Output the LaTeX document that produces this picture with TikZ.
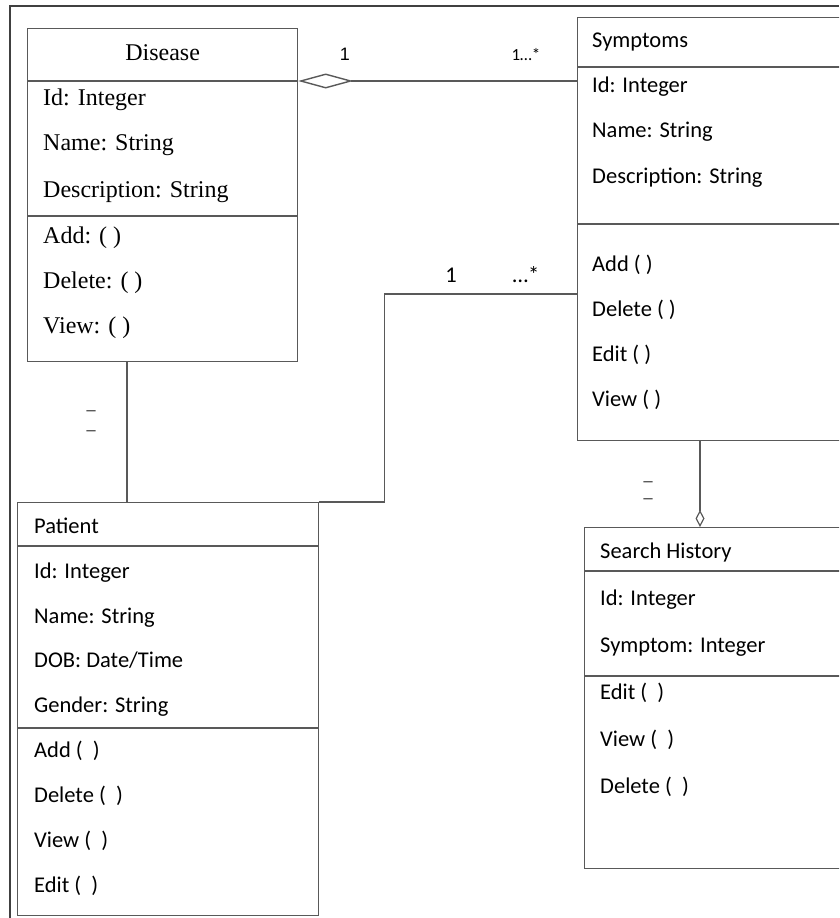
\documentclass[tikz,border=0pt]{standalone}
\usepackage{fontspec}
\setmainfont{Liberation Serif}
\setsansfont{Carlito}
\newfontfamily\arialfont{Liberation Sans}
\usetikzlibrary{positioning,arrows.meta}

\tikzset{
  classbox/.style={draw=black!65, line width=1.2pt, anchor=north west, inner sep=0pt, minimum width=#1},
  classbox/.default=300pt,
  row/.style={anchor=base west, inner sep=0pt, font=\sffamily\fontsize{22.5}{26}\selectfont},
  serifrow/.style={anchor=base west, inner sep=0pt, font=\fontsize{24}{28}\selectfont},
  mult/.style={anchor=base, inner sep=0pt, font=\sffamily\fontsize{#1}{18}\selectfont},
  dashmark/.style={inner sep=0pt, font=\fontsize{18}{20}\selectfont},
  link/.style={draw=black!65, line width=1.2pt}
}

\begin{document}
\begin{tikzpicture}[x=1pt,y=-1pt]
\clip (0,0) rectangle (839,918);
% frame
\draw[line width=1.8pt, black!75] (10,918) -- (10,6) -- (839,6);

% classes
\node[classbox=270pt, minimum height=333pt] (disease) at (27,28) {};
\node[classbox, minimum height=423pt] (symptoms) at (577,17) {};
\node[classbox=301pt, minimum height=413pt] (patient) at (17,502) {};
\node[classbox, minimum height=341pt] (search) at (584,527) {};

% compartments
\draw[link] (disease.west |- 0,81) -- (disease.east |- 0,81);
\draw[link] (disease.west |- 0,216) -- (disease.east |- 0,216);
\draw[link] (symptoms.west |- 0,67) -- (symptoms.east |- 0,67);
\draw[link] (symptoms.west |- 0,224) -- (symptoms.east |- 0,224);
\draw[link] (patient.west |- 0,546) -- (patient.east |- 0,546);
\draw[link] (patient.west |- 0,728) -- (patient.east |- 0,728);
\draw[link] (search.west |- 0,571) -- (search.east |- 0,571);
\draw[link] (search.west |- 0,676) -- (search.east |- 0,676);

% texts
\node[serifrow, anchor=base] (distitle) at (disease.north |- 0,60) {Disease};
\foreach \txt/\y [count=\i] in {Id: Integer/105, Name: String/150, Description: String/197,
    Add: ( )/243, Delete: ( )/288, View: ( )/333}
  \node[serifrow] (dis\i) at (43,\y) {\txt};
\foreach \txt/\y [count=\i] in {Symptoms/47, Id: Integer/92, Name: String/137, Description: String/183,
    Add ( )/271, Delete ( )/316, Edit ( )/361, View ( )/406}
  \node[row] (sym\i) at (592,\y) {\txt};
\foreach \txt/\y [count=\i] in {Patient/533, Id: Integer/578, Name: String/623, {DOB: Date/Time}/667,
    Gender: String/712, Add (\ \ )/757, Delete (\ \ )/802, View (\ \ )/847, Edit (\ \ )/892}
  \node[row] (pat\i) at (34,\y) {\txt};
\foreach \txt/\y [count=\i] in {Search History/558, Id: Integer/605, Symptom: Integer/652,
    Edit (\ \ )/699, View (\ \ )/746, Delete (\ \ )/793}
  \node[row] (sea\i) at (600,\y) {\txt};

% associations
\draw[link, {Diamond[open, length=55pt, width=15pt, line width=1.4pt]}-]
  (disease.east |- 0,81) -- (symptoms.west |- 0,81);
\draw[link] (patient.north east) -- ++(65,0) |- (symptoms.west |- 0,294);
\draw[link] (disease.south -| 127,0) -- (patient.north -| 127,0);
\draw[link, -{Diamond[open, length=17pt, width=9pt, line width=1.2pt]}]
  (symptoms.south -| 700,0) -- (search.north -| 700,0);

% multiplicities
\node[mult=18, font=\arialfont\fontsize{18}{20}\selectfont] (m1) at (345,60) {1};
\node[mult=17] (m2) at (526,60) {1…*};
\node[mult=22.5] (m3) at (451,282) {1};
\node[mult=22.5] (m4) at (526,282) {…*};
\node[dashmark] (d1) at (91,413) {–};
\node[dashmark] (d2) at (91,433) {–};
\node[dashmark] (d3) at (648,484) {–};
\node[dashmark] (d4) at (648,501) {–};
\end{tikzpicture}
\end{document}
